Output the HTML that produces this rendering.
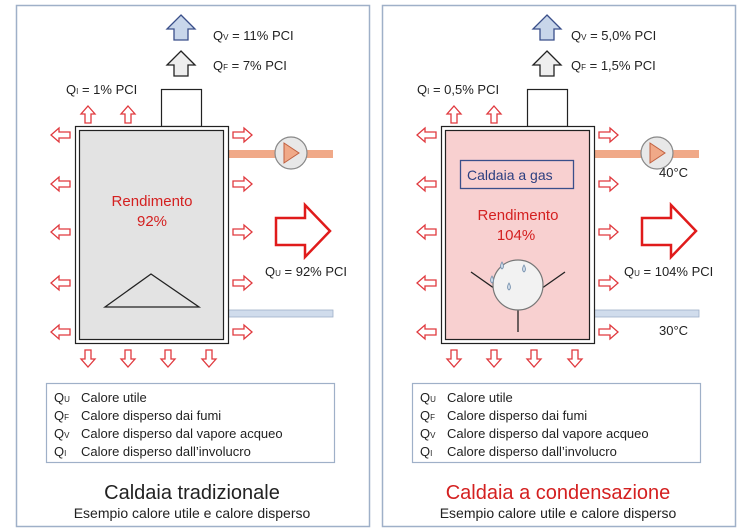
<!DOCTYPE html>
<html><head><meta charset="utf-8"><style>
html,body{margin:0;padding:0;background:#fff}
svg{display:block;font-family:"Liberation Sans","DejaVu Sans",sans-serif}
</style></head><body>
<svg width="750" height="531" viewBox="0 0 750 531" xmlns="http://www.w3.org/2000/svg">
<defs>
<path id="al" d="M0,7 L8,0 L8,4 L19,4 L19,10 L8,10 L8,14 Z" fill="#fff" stroke="#e0393e" stroke-width="1.3"/>
<path id="ar" d="M19,7 L11,0 L11,4 L0,4 L0,10 L11,10 L11,14 Z" fill="#fff" stroke="#e0393e" stroke-width="1.3"/>
<path id="au" d="M7,0 L14,8 L10,8 L10,17 L4,17 L4,8 L0,8 Z" fill="#fff" stroke="#e0393e" stroke-width="1.3"/>
<path id="ad" d="M7,17 L14,9 L10,9 L10,0 L4,0 L4,9 L0,9 Z" fill="#fff" stroke="#e0393e" stroke-width="1.3"/>
<g id="common">
  <rect x="16.5" y="5.5" width="353" height="521" fill="#fff" stroke="#9fb0c8" stroke-width="1.5"/>
  <path d="M181,15 L195,29 L188,29 L188,40 L174,40 L174,29 L167,29 Z" fill="#c8d6ea" stroke="#3a4f8a" stroke-width="1.3"/>
  <path d="M181,51 L195,65 L188,65 L188,76 L174,76 L174,65 L167,65 Z" fill="#eee" stroke="#222" stroke-width="1.3"/>
  <rect x="161.5" y="89.5" width="40" height="37" fill="#fff" stroke="#222" stroke-width="1.2"/>
  <rect x="228" y="150" width="105" height="8" fill="#f0a988"/>
  <rect x="228" y="310" width="105" height="7" fill="#d0dcec" stroke="#9fb0c8" stroke-width="0.8"/>
  <circle cx="291" cy="153" r="16" fill="#e8e8e8" stroke="#888" stroke-width="1.2"/>
  <path d="M284,143 L299,153 L284,163 Z" fill="#f0a988" stroke="#c06040" stroke-width="1"/>
  <use href="#al" x="51" y="128"/><use href="#al" x="51" y="177"/><use href="#al" x="51" y="225"/><use href="#al" x="51" y="276"/><use href="#al" x="51" y="325"/>
  <use href="#ar" x="233" y="128"/><use href="#ar" x="233" y="177"/><use href="#ar" x="233" y="225"/><use href="#ar" x="233" y="276"/><use href="#ar" x="233" y="325"/>
  <use href="#au" x="81" y="106"/><use href="#au" x="121" y="106"/>
  <use href="#ad" x="81" y="350"/><use href="#ad" x="121" y="350"/><use href="#ad" x="161" y="350"/><use href="#ad" x="202" y="350"/>
  <path d="M330,231 L305,205 L305,218 L276,218 L276,245 L305,245 L305,257 Z" fill="#fff" stroke="#e01b1b" stroke-width="2.5"/>
  <rect x="46.5" y="383.5" width="288" height="79" fill="#fff" stroke="#9fb0c8" stroke-width="1.2"/>
  <g font-size="13" fill="#222">
    <text x="54" y="402">Q<tspan font-size="8">U</tspan></text><text x="81" y="402">Calore utile</text>
    <text x="54" y="420">Q<tspan font-size="8">F</tspan></text><text x="81" y="420">Calore disperso dai fumi</text>
    <text x="54" y="438">Q<tspan font-size="8">V</tspan></text><text x="81" y="438">Calore disperso dal vapore acqueo</text>
    <text x="54" y="456">Q<tspan font-size="8">I</tspan></text><text x="81" y="456">Calore disperso dall’involucro</text>
  </g>
  <text x="192" y="518" font-size="14" fill="#222" text-anchor="middle">Esempio calore utile e calore disperso</text>
</g>
</defs>

<use href="#common"/>
<rect x="75.5" y="126.5" width="153" height="217" fill="#fff" stroke="#222" stroke-width="1.2"/>
<rect x="79.5" y="130.5" width="144" height="209" fill="#e3e3e3" stroke="#222" stroke-width="1.2"/>
<path d="M105,307 L151,274 L199,307 Z" fill="none" stroke="#222" stroke-width="1.3"/>
<text x="152" y="206" font-size="15" fill="#d42020" text-anchor="middle">Rendimento</text>
<text x="152" y="226" font-size="15" fill="#d42020" text-anchor="middle">92%</text>
<g font-size="13" fill="#222">
<text x="213" y="40">Q<tspan font-size="8">V</tspan> = 11% PCI</text>
<text x="213" y="70">Q<tspan font-size="8">F</tspan> =  7% PCI</text>
<text x="66" y="94">Q<tspan font-size="8">I</tspan> =  1% PCI</text>
<text x="265" y="276">Q<tspan font-size="8">U</tspan> = 92% PCI</text>
</g>
<text x="192" y="499" font-size="20" fill="#222" text-anchor="middle">Caldaia tradizionale</text>

<g transform="translate(366,0)">
<use href="#common"/>
<rect x="75.5" y="126.5" width="153" height="217" fill="#fff" stroke="#222" stroke-width="1.2"/>
<rect x="79.5" y="130.5" width="144" height="209" fill="#f8d0d0" stroke="#222" stroke-width="1.2"/>
<rect x="94.5" y="160.5" width="113" height="28" fill="none" stroke="#3a4f8a" stroke-width="1.3"/>
<text x="101" y="180" font-size="14" fill="#2c3f80">Caldaia a gas</text>
<text x="152" y="220" font-size="15" fill="#d42020" text-anchor="middle">Rendimento</text>
<text x="150" y="240" font-size="15" fill="#d42020" text-anchor="middle">104%</text>
<path d="M105,272 L152,305 L199,272 M152,305 L152,332" fill="none" stroke="#222" stroke-width="1.3"/>
<circle cx="152" cy="285" r="25" fill="#f2f2f2" stroke="#777" stroke-width="1.2"/>
<g fill="#cfdbe8" stroke="#7a94b0" stroke-width="0.8">
<path d="M136,262 q-3,5 0,7 q3,-2 0,-7z"/><path d="M158,265 q-3,5 0,7 q3,-2 0,-7z"/><path d="M126,276 q-3,5 0,7 q3,-2 0,-7z"/><path d="M143,283 q-3,5 0,7 q3,-2 0,-7z"/>
</g>
<g font-size="13" fill="#222">
<text x="205" y="40">Q<tspan font-size="8">V</tspan> = 5,0% PCI</text>
<text x="205" y="70">Q<tspan font-size="8">F</tspan> = 1,5% PCI</text>
<text x="51" y="94">Q<tspan font-size="8">I</tspan> =  0,5% PCI</text>
<text x="258" y="276">Q<tspan font-size="8">U</tspan> = 104% PCI</text>
<text x="293" y="177">40°C</text>
<text x="293" y="335">30°C</text>
</g>
<text x="192" y="499" font-size="20" fill="#d42020" text-anchor="middle">Caldaia a condensazione</text>
</g>
</svg>
</body></html>
